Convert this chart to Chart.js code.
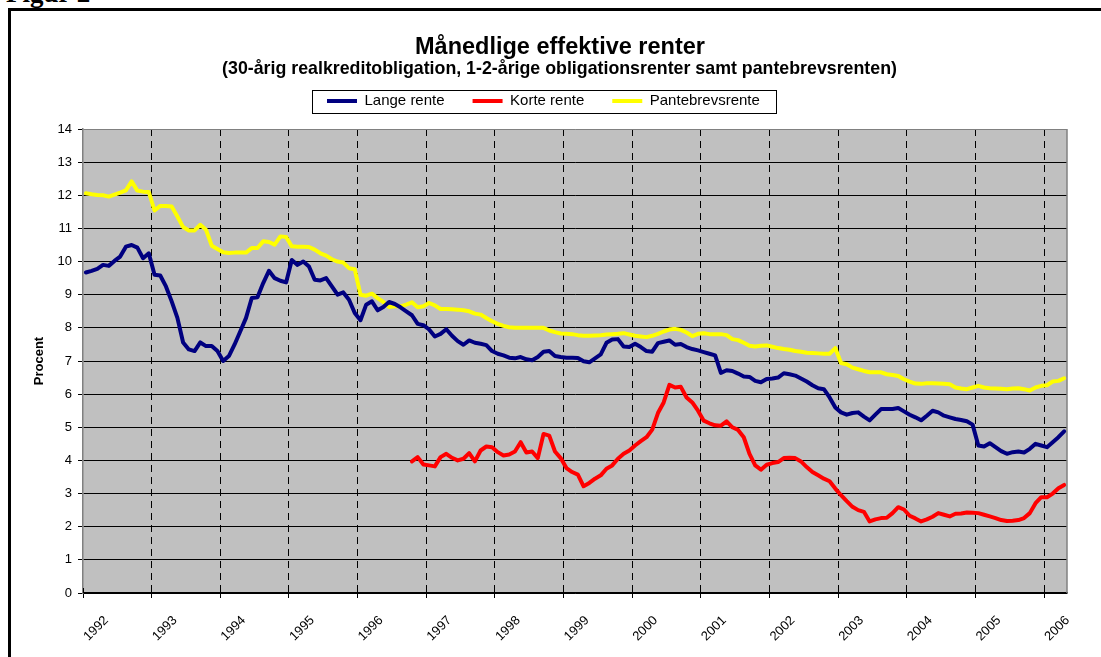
<!DOCTYPE html>
<html>
<head>
<meta charset="utf-8">
<script src="https://cdn.jsdelivr.net/npm/chart.js@4.4.1/dist/chart.umd.min.js"></script>
<style>
html, body { margin: 0; padding: 0; background: #fff; overflow: hidden; }
#wrap { position: relative; width: 1101px; height: 657px; overflow: hidden; background: #fff; }
#fig { position: absolute; left: 6px; top: -20.5px; font: bold 27px 'Liberation Serif', 'Times New Roman', serif; line-height: 27px; color: #000; white-space: nowrap; }
#frame { position: absolute; left: 8px; top: 8px; width: 1300px; height: 900px; border-left: 3px solid #000; border-top: 3px solid #000; }
canvas { position: absolute; left: 0; top: 0; }
</style>
</head>
<body>
<div id="wrap">
  <div id="fig">Figur 2</div>
  <div id="frame"></div>
  <canvas id="c" width="1101" height="657"></canvas>
</div>
<script>
// ---------- DATA (monthly, first month = January 1992) ----------
const yearLabels = ['1992','1993','1994','1995','1996','1997','1998','1999','2000','2001','2002','2003','2004','2005','2006'];

const langeRente = [
  9.67, 9.72, 9.78, 9.90, 9.87, 10.02, 10.15, 10.45, 10.50, 10.42, 10.10, 10.25,
  9.60, 9.58, 9.25, 8.80, 8.30, 7.56, 7.35, 7.30, 7.56, 7.45, 7.45, 7.30,
  7.00, 7.15, 7.50, 7.90, 8.30, 8.90, 8.92, 9.35, 9.72, 9.50, 9.42, 9.37,
  10.05, 9.90, 10.00, 9.85, 9.45, 9.43, 9.50, 9.25, 9.00, 9.07, 8.85, 8.45,
  8.23, 8.70, 8.80, 8.53, 8.63, 8.78, 8.72, 8.62, 8.50, 8.38, 8.12, 8.08,
  7.95, 7.74, 7.82, 7.96, 7.76, 7.60, 7.49, 7.62, 7.55, 7.52, 7.48, 7.30,
  7.22, 7.17, 7.10, 7.08, 7.12, 7.05, 7.02, 7.12, 7.28, 7.30, 7.15, 7.12,
  7.10, 7.10, 7.09, 6.99, 6.96, 7.08, 7.20, 7.55, 7.65, 7.66, 7.44, 7.42,
  7.52, 7.42, 7.30, 7.28, 7.54, 7.58, 7.62, 7.49, 7.51, 7.42, 7.36, 7.32,
  7.27, 7.22, 7.17, 6.64, 6.72, 6.70, 6.62, 6.53, 6.52, 6.40, 6.36, 6.46,
  6.47, 6.50, 6.63, 6.60, 6.56, 6.47, 6.38, 6.27, 6.18, 6.15, 5.90, 5.60,
  5.45, 5.38, 5.43, 5.45, 5.32, 5.21, 5.38, 5.55, 5.55, 5.55, 5.58, 5.48,
  5.38, 5.30, 5.21, 5.35, 5.50, 5.45, 5.35, 5.30, 5.25, 5.22, 5.18, 5.08,
  4.45, 4.42, 4.52, 4.40, 4.28, 4.20, 4.25, 4.27, 4.24, 4.35, 4.50, 4.45,
  4.40, 4.55, 4.70, 4.88
];

// Korte rente starts in October 1996 (month index 57)
const korteRenteStartMonth = 57;
const korteRente = [
  3.97, 4.10, 3.88,
  3.85, 3.82, 4.10, 4.20, 4.08, 4.00, 4.05, 4.22, 3.97, 4.30, 4.42, 4.40,
  4.25, 4.15, 4.18, 4.27, 4.55, 4.24, 4.27, 4.07, 4.80, 4.75, 4.27, 4.07,
  3.77, 3.65, 3.57, 3.22, 3.32, 3.45, 3.55, 3.75, 3.85, 4.05, 4.20, 4.30,
  4.45, 4.58, 4.70, 4.93, 5.43, 5.75, 6.28, 6.20, 6.22, 5.90, 5.75, 5.50,
  5.20, 5.12, 5.06, 5.05, 5.18, 5.00, 4.92, 4.70, 4.20, 3.85, 3.72, 3.87,
  3.92, 3.95, 4.07, 4.08, 4.07, 3.97, 3.80, 3.65, 3.55, 3.45, 3.37, 3.15,
  2.95, 2.77, 2.60, 2.50, 2.45, 2.16, 2.22, 2.26, 2.27, 2.41, 2.59, 2.52,
  2.33, 2.25, 2.16, 2.22, 2.30, 2.41, 2.36, 2.31, 2.39, 2.40, 2.43, 2.42,
  2.41, 2.36, 2.31, 2.26, 2.20, 2.17, 2.18, 2.20, 2.26, 2.41, 2.71, 2.89,
  2.89, 3.00, 3.16, 3.26
];

const pantebrevsrente = [
  12.06, 12.03, 12.01, 12.00, 11.96, 12.02, 12.08, 12.15, 12.42, 12.14, 12.11, 12.10,
  11.54, 11.68, 11.68, 11.66, 11.36, 11.04, 10.94, 10.94, 11.11, 10.96, 10.48, 10.38,
  10.28, 10.26, 10.27, 10.27, 10.27, 10.41, 10.41, 10.61, 10.59, 10.51, 10.76, 10.74,
  10.46, 10.45, 10.45, 10.44, 10.36, 10.25, 10.18, 10.07, 10.00, 9.97, 9.80, 9.77,
  9.00, 8.97, 9.03, 8.90, 8.78, 8.63, 8.65, 8.65, 8.70, 8.77, 8.62, 8.65,
  8.75, 8.68, 8.57, 8.57, 8.56, 8.55, 8.53, 8.50, 8.43, 8.40, 8.30, 8.20,
  8.12, 8.06, 8.02, 8.00, 8.00, 8.00, 8.00, 8.00, 8.00, 7.92, 7.87, 7.83,
  7.82, 7.81, 7.78, 7.76, 7.76, 7.77, 7.78, 7.80, 7.81, 7.82, 7.84, 7.80,
  7.76, 7.74, 7.72, 7.76, 7.82, 7.89, 7.95, 7.97, 7.94, 7.86, 7.75, 7.82,
  7.84, 7.81, 7.81, 7.81, 7.78, 7.66, 7.63, 7.55, 7.46, 7.44, 7.46, 7.47,
  7.43, 7.39, 7.36, 7.34, 7.30, 7.28, 7.25, 7.24, 7.23, 7.22, 7.22, 7.39,
  6.94, 6.90, 6.80, 6.75, 6.70, 6.66, 6.66, 6.66, 6.60, 6.58, 6.55, 6.45,
  6.38, 6.32, 6.31, 6.33, 6.33, 6.32, 6.31, 6.30, 6.20, 6.17, 6.15, 6.20,
  6.25, 6.20, 6.18, 6.17, 6.16, 6.15, 6.17, 6.18, 6.15, 6.11, 6.20, 6.25,
  6.27, 6.38, 6.40, 6.48
];

const seriesNames = ['Lange rente', 'Korte rente', 'Pantebrevsrente'];
const TITLE = 'Månedlige effektive renter';
const SUBTITLE = '(30-årig realkreditobligation, 1-2-årige obligationsrenter samt pantebrevsrenten)';
const Y_TITLE = 'Procent';

// ---------- helpers ----------
const monthsTotal = langeRente.length;
const toPoints = (arr, startMonth) => arr.map((v, k) => ({ x: startMonth + k + 0.5, y: v }));

Chart.defaults.font.family = "'Liberation Sans', Arial, sans-serif";
Chart.defaults.color = '#000';

const plotDecor = {
  id: 'plotDecor',
  beforeDraw(chart) {
    const { ctx, chartArea: a } = chart;
    ctx.save();
    ctx.fillStyle = '#c0c0c0';
    ctx.fillRect(a.left, a.top, a.right - a.left, a.bottom - a.top);
    ctx.restore();
  },
  beforeDatasetsDraw(chart) {
    const { ctx, chartArea: a } = chart;
    const xs = chart.scales.x;
    ctx.save();
    ctx.strokeStyle = '#808080';
    ctx.lineWidth = 1.5;
    ctx.beginPath();
    ctx.moveTo(a.right, a.top);
    ctx.lineTo(a.right, a.bottom);
    ctx.stroke();
    ctx.strokeStyle = '#000';
    ctx.lineWidth = 1;
    ctx.beginPath();
    xs.ticks.forEach(t => {
      const px = Math.floor(xs.getPixelForValue(t.value)) + 0.5;
      ctx.moveTo(px, a.bottom - 5);
      ctx.lineTo(px, a.bottom);
    });
    ctx.stroke();
    ctx.restore();
  },
  afterDraw(chart) {
    const lg = chart.legend;
    if (!lg || !lg.legendHitBoxes || !lg.legendHitBoxes.length) return;
    const hb = lg.legendHitBoxes;
    const first = hb[0], last = hb[hb.length - 1];
    const cy = first.top + first.height / 2;
    const x1 = Math.round(first.left - 15) + 0.5;
    const x2 = Math.round(last.left + last.width + 16) + 0.5;
    const y1 = Math.round(cy - 11.5) + 0.5;
    const ctx = chart.ctx;
    ctx.save();
    ctx.strokeStyle = '#000';
    ctx.lineWidth = 1;
    ctx.strokeRect(x1, y1, x2 - x1, 23);
    ctx.restore();
  }
};

const placeBoxes = {
  id: 'placeBoxes',
  afterLayout(chart) {
    const shift = (b, dx, dy) => { b.left += dx; b.right += dx; b.top += dy; b.bottom += dy; };
    const t = chart.titleBlock;
    const s = chart.boxes.find(b => b !== t && b.options && b.options.text === SUBTITLE);
    const lg = chart.legend;
    if (t) shift(t, 560 - (t.left + t.right) / 2, 47.9 - (t.top + t.bottom) / 2);
    if (s) shift(s, 559.5 - (s.left + s.right) / 2, 68.8 - (s.top + s.bottom) / 2);
    if (lg && lg.lineWidths) {
      const pad = lg.options.labels.padding;
      const startX = (lg.left + pad + lg.right - lg.lineWidths[0]) / 2;
      const textCY = lg.top + pad + 7.5;
      shift(lg, 327 - startX, 101 - textCY);
    }
  }
};

new Chart(document.getElementById('c'), {
  type: 'line',
  data: {
    datasets: [
      { label: seriesNames[0], data: toPoints(langeRente, 0), borderColor: '#000080', backgroundColor: '#000080' },
      { label: seriesNames[1], data: toPoints(korteRente, korteRenteStartMonth), borderColor: '#ff0000', backgroundColor: '#ff0000' },
      { label: seriesNames[2], data: toPoints(pantebrevsrente, 0), borderColor: '#ffff00', backgroundColor: '#ffff00' }
    ]
  },
  options: {
    responsive: false,
    animation: false,
    events: [],
    devicePixelRatio: 1,
    elements: {
      line: { borderWidth: 4, tension: 0, borderJoinStyle: 'round', borderCapStyle: 'round', fill: false },
      point: { radius: 0 }
    },
    layout: { padding: { top: 34.7, right: 34, bottom: 0, left: 0 } },
    plugins: {
      tooltip: { enabled: false },
      title: {
        display: true, text: TITLE, color: '#000',
        font: { size: 23.5, weight: 'bold', lineHeight: 1 },
        padding: { top: 0, bottom: 0 }
      },
      subtitle: {
        display: true, text: SUBTITLE, color: '#000',
        font: { size: 17.8, weight: 'bold', lineHeight: 1 },
        padding: { top: 0, bottom: 0 }
      },
      legend: {
        display: true,
        labels: {
          color: '#000',
          font: { size: 15 },
          boxWidth: 30,
          boxHeight: 4,
          padding: 28,
          generateLabels(chart) {
            const items = Chart.defaults.plugins.legend.labels.generateLabels(chart);
            items.forEach(it => { it.lineWidth = 0; it.fillStyle = it.strokeStyle; });
            return items;
          }
        }
      }
    },
    scales: {
      x: {
        type: 'linear',
        min: 0,
        max: monthsTotal,
        afterBuildTicks(scale) {
          scale.ticks = yearLabels.map((_, k) => ({ value: k * 12 }));
        },
        afterFit(scale) { scale.height = 64; },
        ticks: {
          autoSkip: false,
          minRotation: 45,
          maxRotation: 45,
          padding: 14.8,
          labelOffset: 23.4,
          font: { size: 13 },
          color: '#000',
          callback: (v) => yearLabels[Math.round(v / 12)]
        },
        grid: {
          color: (ctx) => (ctx.tick && ctx.tick.value === 0 ? 'rgba(0,0,0,0)' : '#000'),
          lineWidth: 1,
          tickLength: 5,
          tickColor: '#000',
          tickWidth: 1,
          tickBorderDash: []
        },
        border: { color: '#000', width: 1.5, dash: [7, 5] }
      },
      y: {
        min: 0,
        max: 14,
        afterFit(scale) { scale.width = 83; },
        ticks: { stepSize: 1, padding: 6, font: { size: 13 }, color: '#000' },
        grid: {
          color: (ctx) => (ctx.tick && ctx.tick.value === 14 ? '#808080' : '#000'),
          lineWidth: 1,
          tickLength: 5,
          tickColor: '#000'
        },
        border: { color: '#808080', width: 1.5 },
        title: {
          display: true, text: Y_TITLE, color: '#000',
          font: { size: 13, weight: 'bold' },
          padding: { top: 32, bottom: 0 }
        }
      }
    }
  },
  plugins: [plotDecor, placeBoxes]
});
</script>
</body>
</html>
